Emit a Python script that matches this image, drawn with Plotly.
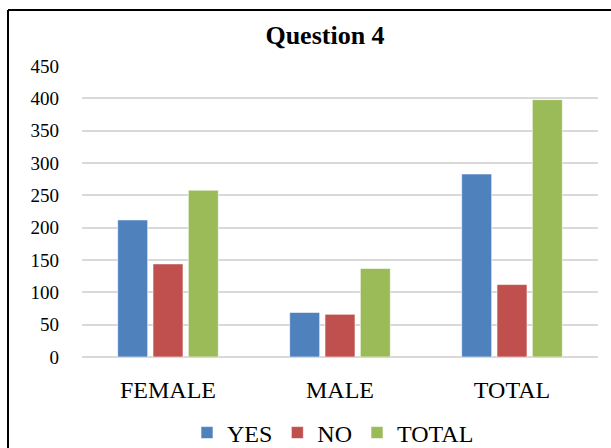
import plotly.graph_objects as go

categories = ["FEMALE", "MALE", "TOTAL"]
yes_vals = [212, 69, 283]
no_vals = [144, 66, 112]
total_vals = [258, 137, 398]
series_names = ["YES", "NO", "TOTAL"]
colors = ["#4f81bd", "#c0504d", "#9bbb59"]

W, H = 611, 448
L, R, T, B = 82, 13, 66, 91
pw, ph = W - L - R, H - T - B

def px_x(x):
    return (x - L) / pw

def px_y(y):
    return (H - B - y) / ph

fig = go.Figure()
for name, vals, col in zip(series_names, [yes_vals, no_vals, total_vals], colors):
    fig.add_trace(go.Bar(x=categories, y=vals, name=name,
                         marker=dict(color=col, line=dict(color="rgba(255,255,255,0.6)", width=1))))

serif = "Liberation Serif, Times New Roman, serif"
fig.update_layout(
    width=W, height=H,
    margin=dict(l=L, r=R, t=T, b=B, autoexpand=False),
    paper_bgcolor="white", plot_bgcolor="white",
    barmode="group", bargap=0.384, bargroupgap=0.15,
    title=dict(text="<b>Question 4</b>", x=325 / W, xref="container", xanchor="center",
               y=1 - 35 / H, yref="container", yanchor="middle",
               font=dict(family=serif, size=26, color="black")),
    font=dict(family=serif, color="black"),
    showlegend=True,
    legend=dict(orientation="h", x=px_x(333), xanchor="center", y=px_y(433), yanchor="middle",
                font=dict(family=serif, size=24, color="black"), itemwidth=30,
                traceorder="normal"),
    xaxis=dict(showgrid=False, showline=False, ticks="", tickfont=dict(size=24),
               ticklabelstandoff=16, automargin=False),
    yaxis=dict(range=[0, 450], dtick=50, showgrid=True, gridcolor="#d9d9d9", gridwidth=1.5,
               zeroline=True, zerolinecolor="#d9d9d9", zerolinewidth=1.5, showline=False,
               ticks="", tickfont=dict(size=19), ticklabelstandoff=22, automargin=False),
    shapes=[
        dict(type="line", xref="paper", yref="paper", x0=px_x(8), x1=px_x(8),
             y0=px_y(H + 5), y1=px_y(10), line=dict(color="black", width=2)),
        dict(type="line", xref="paper", yref="paper", x0=px_x(8), x1=px_x(W + 5),
             y0=px_y(10), y1=px_y(10), line=dict(color="black", width=2)),
    ],
)
fig.write_html("out.html")
